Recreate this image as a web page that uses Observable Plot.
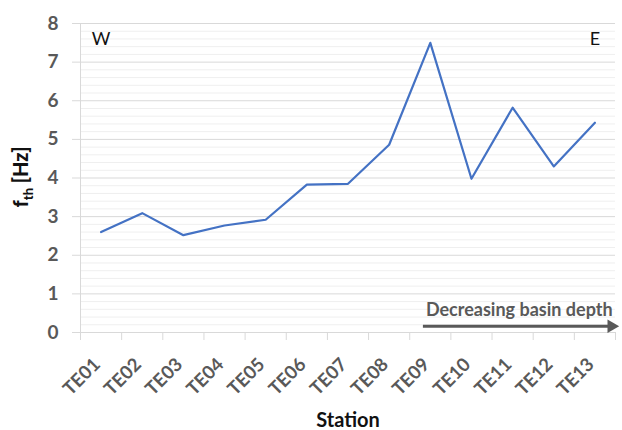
<!DOCTYPE html>
<html><head><meta charset="utf-8">
<script src="https://cdn.jsdelivr.net/npm/d3@7"></script>
<script src="https://cdn.jsdelivr.net/npm/@observablehq/plot@0.6"></script>
<style>body{margin:0;background:#fff;} svg{font-family:Lato,"Open Sans",sans-serif;}</style>
</head><body><div id="chart"></div>
<script>
const stations = ["TE01","TE02","TE03","TE04","TE05","TE06","TE07","TE08","TE09","TE10","TE11","TE12","TE13"];
const fth = [2.60, 3.09, 2.52, 2.77, 2.92, 3.83, 3.85, 4.86, 7.50, 3.98, 5.82, 4.30, 5.43];
const yTicks = [0,1,2,3,4,5,6,7,8];
const yMinor = d3.range(0, 40).map(i => i * 0.2).filter((v, i) => i % 5 !== 0);
const sideLabels = [{x: 0.5, y: 7.58, t: "W"}, {x: 12.5, y: 7.58, t: "E"}];
const arrowSpec = [{x1: 8.32, x2: 12.85, xh: 12.9, y: 0.16}];
const arrowText = [{x: 12.93, y: 0.57, t: "Decreasing basin depth"}];

const data = stations.map((s, i) => ({pos: i + 0.5, s, v: fth[i]}));
const bounds = d3.range(0, stations.length + 1);

const gray = "#595959";
const plot = Plot.plot({
  width: 622, height: 430,
  marginLeft: 80, marginRight: 7, marginTop: 23, marginBottom: 98,
  x: {domain: [0, stations.length], axis: null},
  y: {domain: [0, 8], axis: null},
  marks: [
    Plot.ruleY(yMinor, {stroke: "#efefef", strokeWidth: 1}),
    Plot.ruleY(yTicks, {stroke: "#d9d9d9", strokeWidth: 1}),
    Plot.ruleX([0], {stroke: "#d9d9d9"}),
    Plot.axisY(yTicks, {tickSize: 8, tickPadding: 14, stroke: "#d9d9d9", fill: gray, fontSize: 19, fontWeight: "bold", tickFormat: d => d}),
    Plot.axisX(bounds, {tickSize: 8, tickFormat: () => "", stroke: "#d9d9d9", label: null}),
    Plot.axisX(data.map(d => d.pos), {tickSize: 0, tickPadding: 29, dx: -4, tickRotate: -45, tickFormat: p => stations[Math.floor(p)], fill: gray, fontSize: 18.5, fontWeight: "bold", label: null}),
    Plot.line(data, {x: "pos", y: "v", stroke: "#4472C4", strokeWidth: 2.2}),
    Plot.text(sideLabels, {x: "x", y: "y", text: "t", fontSize: 18, fill: "#111"}),
    Plot.link(arrowSpec, {x1: "x1", x2: "x2", y1: "y", y2: "y", stroke: gray, strokeWidth: 3}),
    Plot.dot(arrowSpec, {x: "xh", y: "y", symbol: "triangle", rotate: 90, r: 5, fill: gray, stroke: null}),
    Plot.text(arrowText, {x: "x", y: "y", text: "t", textAnchor: "end", fontSize: 18, fontWeight: "bold", fill: gray}),
    Plot.text(["Station"], {frameAnchor: "bottom", lineAnchor: "middle", dy: 88, fontSize: 20, fontWeight: "bold", fill: "#111"})
  ]
});
document.getElementById("chart").appendChild(plot);

const svg = d3.select(plot);
const lab = svg.append("text")
  .attr("transform", "translate(28,177) rotate(-90)")
  .attr("text-anchor", "middle")
  .attr("font-family", "Lato")
  .style("font-size", "20px").style("font-weight", "900").attr("fill", "#111");
lab.append("tspan").text("f");
lab.append("tspan").style("font-size", "13px").attr("dy", 5).text("th");
lab.append("tspan").attr("dy", -5).text(" [Hz]");
</script></body></html>
